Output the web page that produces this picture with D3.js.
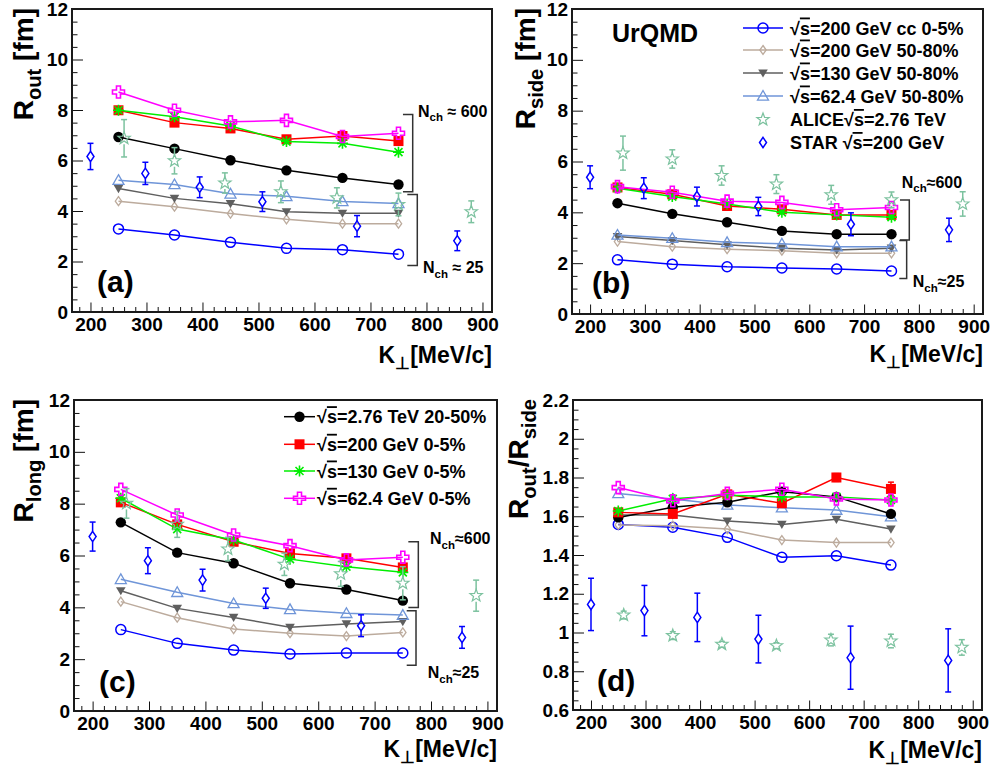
<!DOCTYPE html>
<html>
<head>
<meta charset="utf-8">
<script src="https://cdn.jsdelivr.net/npm/d3@7"></script>
<style>
  body { margin: 0; background: #fff; }
  svg text { font-family: "Liberation Sans", Arial, Helvetica, sans-serif; font-weight: bold; }
</style>
</head>
<body>
<svg id="fig" width="995" height="774"></svg>
<script>
// ---------------- data ----------------
const kT = [250, 350, 450, 550, 650, 750];          // UrQMD K_T bins [MeV/c]
const aliceKt = [260, 350, 440, 540, 640, 750, 880];
const starKt = [200, 298, 395, 507, 676, 855];
const xMajorTicks = [200, 300, 400, 500, 600, 700, 800, 900];

// R_out [fm]
const outCc200  = [3.29, 3.05, 2.76, 2.52, 2.47, 2.29];
const outPer200 = [4.39, 4.17, 3.90, 3.67, 3.50, 3.50];
const outPer130 = [4.89, 4.50, 4.29, 3.97, 3.91, 3.91];
const outPer62  = [5.22, 5.05, 4.68, 4.58, 4.38, 4.30];
const outLhc    = [6.93, 6.47, 6.01, 5.61, 5.31, 5.05];
const outCen200 = [7.99, 7.50, 7.27, 6.84, 6.97, 6.77];
const outCen130 = [7.99, 7.73, 7.37, 6.75, 6.68, 6.33];
const outCen62  = [8.71, 7.99, 7.53, 7.59, 6.95, 7.08];
const outAlice    = [6.88, 5.99, 5.11, 4.76, 4.52, 4.26, 3.97];
const outAliceErr = [0.74, 0.52, 0.40, 0.43, 0.40, 0.45, 0.43];
const outStar     = [6.16, 5.49, 4.94, 4.37, 3.40, 2.82];
const outStarErr  = [0.52, 0.44, 0.41, 0.39, 0.42, 0.39];

// R_side [fm]
const sideCc200  = [2.13, 1.96, 1.86, 1.81, 1.77, 1.69];
const sidePer200 = [2.85, 2.65, 2.55, 2.49, 2.39, 2.39];
const sidePer130 = [3.05, 2.89, 2.72, 2.59, 2.52, 2.59];
const sidePer62  = [3.11, 2.98, 2.82, 2.76, 2.65, 2.65];
const sideLhc    = [4.36, 3.94, 3.61, 3.27, 3.14, 3.14];
const sideCen200 = [4.98, 4.71, 4.25, 4.12, 3.90, 3.90];
const sideCen130 = [4.95, 4.62, 4.33, 4.00, 3.90, 3.81];
const sideCen62  = [5.01, 4.79, 4.44, 4.39, 4.10, 4.19];
const sideAlice    = [6.33, 6.10, 5.45, 5.11, 4.69, 4.49, 4.33];
const sideAliceErr = [0.67, 0.36, 0.38, 0.37, 0.37, 0.31, 0.48];
const sideStar     = [5.38, 4.95, 4.62, 4.23, 3.53, 3.31];
const sideStarErr  = [0.45, 0.41, 0.37, 0.36, 0.45, 0.46];

// R_long [fm]
const longCc200  = [3.14, 2.61, 2.35, 2.20, 2.24, 2.24];
const longPer200 = [4.22, 3.60, 3.16, 3.00, 2.89, 3.03];
const longPer130 = [4.64, 3.96, 3.61, 3.23, 3.36, 3.45];
const longPer62  = [5.08, 4.58, 4.15, 3.92, 3.77, 3.70];
const longLhc    = [7.28, 6.11, 5.70, 4.93, 4.69, 4.26];
const longCen200 = [8.05, 7.20, 6.53, 6.08, 5.89, 5.54];
const longCen130 = [8.21, 7.02, 6.60, 5.86, 5.57, 5.35];
const longCen62  = [8.55, 7.56, 6.79, 6.38, 5.83, 5.93];
const longAlice    = [8.01, 7.20, 6.25, 5.66, 5.29, 4.93, 4.45];
const longAliceErr = [0.57, 0.50, 0.45, 0.43, 0.48, 0.64, 0.60];
const longStar     = [6.73, 5.80, 5.05, 4.35, 3.29, 2.84];
const longStarErr  = [0.56, 0.50, 0.42, 0.39, 0.42, 0.42];

// R_out / R_side
const ratioCc200  = [1.558, 1.543, 1.491, 1.388, 1.396, 1.348];
const ratioPer200 = [1.555, 1.551, 1.534, 1.477, 1.464, 1.464];
const ratioPer130 = [1.606, 1.606, 1.575, 1.558, 1.584, 1.534];
const ratioPer62  = [1.718, 1.689, 1.658, 1.644, 1.632, 1.598];
const ratioLhc    = [1.594, 1.646, 1.672, 1.727, 1.700, 1.612];
const ratioCen200 = [1.620, 1.612, 1.713, 1.667, 1.800, 1.741];
const ratioCen200Err = [0.012, 0.012, 0.012, 0.015, 0.020, 0.035];
const ratioCen130 = [1.627, 1.690, 1.708, 1.700, 1.700, 1.684];
const ratioCen62  = [1.748, 1.680, 1.718, 1.739, 1.689, 1.684];
const ratioAlice    = [1.090, 0.984, 0.939, 0.932, 0.961, 0.956, 0.923];
const ratioAliceErr = [0.020, 0.020, 0.015, 0.015, 0.030, 0.035, 0.040];
const ratioStar     = [1.145, 1.113, 1.078, 0.966, 0.870, 0.856];
const ratioStarErr  = [0.135, 0.130, 0.125, 0.123, 0.163, 0.163];

// ---------------- styles ----------------
const seriesOrder = ['cc200', 'per200', 'per130', 'per62', 'lhc', 'cen200', 'cen130', 'cen62'];
const seriesStyle = {
  cc200:  { color: '#0000ff', marker: 'openCircle',  label: '=200 GeV cc 0-5%' },
  per200: { color: '#bcab9d', marker: 'openDiamond', label: '=200 GeV 50-80%' },
  per130: { color: '#5f5f5f', marker: 'fullTriDown', label: '=130 GeV 50-80%' },
  per62:  { color: '#6f95d8', marker: 'openTriUp',   label: '=62.4 GeV 50-80%' },
  lhc:    { color: '#000000', marker: 'fullCircle',  label: '=2.76 TeV 20-50%' },
  cen200: { color: '#ff0000', marker: 'fullSquare',  label: '=200 GeV 0-5%' },
  cen130: { color: '#00ee00', marker: 'asterisk',    label: '=130 GeV 0-5%' },
  cen62:  { color: '#ff00ff', marker: 'openCross',   label: '=62.4 GeV 0-5%' }
};
const aliceColor = '#7cc29f';
const starColor = '#0000ff';

const FONT = '"Liberation Sans", Arial, Helvetica, sans-serif';
const kDomain = [167, 917];

const panels = [
  { tag: '(a)', box: { left: 72, top: 9, width: 420, height: 303 }, yDomain: [0, 12], yMajor: 2, yMinor: 0.5,
    series: { cc200: outCc200, per200: outPer200, per130: outPer130, per62: outPer62, lhc: outLhc, cen200: outCen200, cen130: outCen130, cen62: outCen62 },
    alice: [outAlice, outAliceErr], star: [outStar, outStarErr],
    ytitle: [['R'], ['out', 'sub'], [' [fm]']], ytitleOff: 39, xtitleOff: 51,
    tagPos: [97, 292],
    brackets: [{ x0: 758, x1: 775.4, y0: 7.82, y1: 4.76 }, { x0: 765.8, x1: 783.6, y0: 4.65, y1: 1.84 }],
    nch: [{ x: 784.8, y: 7.73, t: ' \u2248 600' }, { x: 793.7, y: 1.53, t: ' \u2248 25' }] },
  { tag: '(b)', box: { left: 572, top: 9, width: 411, height: 305 }, yDomain: [0, 12], yMajor: 2, yMinor: 0.5,
    series: { cc200: sideCc200, per200: sidePer200, per130: sidePer130, per62: sidePer62, lhc: sideLhc, cen200: sideCen200, cen130: sideCen130, cen62: sideCen62 },
    alice: [sideAlice, sideAliceErr], star: [sideStar, sideStarErr],
    ytitle: [['R'], ['side', 'sub'], [' [fm]']], ytitleOff: 37, xtitleOff: 48,
    tagPos: [592, 293],
    brackets: [{ x0: 765.5, x1: 782.5, y0: 4.49, y1: 2.91 }, { x0: 764.3, x1: 777.7, y0: 2.89, y1: 1.40 }],
    nch: [{ x: 768.6, y: 4.96, t: '\u2248600' }, { x: 788.7, y: 1.06, t: '\u224825' }],
    legend: { keys: ['cc200', 'per200', 'per130', 'per62', 'alice', 'star'], x0: 743, x1: 783, tx: 790, rows: [28, 50, 73, 96, 119.5, 142.5] } },
  { tag: '(c)', box: { left: 74, top: 400, width: 423, height: 311 }, yDomain: [0, 12], yMajor: 2, yMinor: 0.5,
    series: { cc200: longCc200, per200: longPer200, per130: longPer130, per62: longPer62, lhc: longLhc, cen200: longCen200, cen130: longCen130, cen62: longCen62 },
    alice: [longAlice, longAliceErr], star: [longStar, longStarErr],
    ytitle: [['R'], ['long', 'sub'], [' [fm]']], ytitleOff: 41, xtitleOff: 46,
    tagPos: [99, 692],
    brackets: [{ x0: 759.8, x1: 777.5, y0: 6.53, y1: 3.99 }, { x0: 756.9, x1: 773.4, y0: 3.87, y1: 1.77 }],
    nch: [{ x: 798.2, y: 6.43, t: '\u2248600' }, { x: 794.1, y: 1.26, t: '\u224825' }],
    legend: { keys: ['lhc', 'cen200', 'cen130', 'cen62'], x0: 284, x1: 315, tx: 317, rows: [416.7, 444.3, 471, 498.3] } },
  { tag: '(d)', box: { left: 573, top: 400, width: 409, height: 310 }, yDomain: [0.6, 2.2], yMajor: 0.2, yMinor: 0.05,
    series: { cc200: ratioCc200, per200: ratioPer200, per130: ratioPer130, per62: ratioPer62, lhc: ratioLhc, cen200: ratioCen200, cen130: ratioCen130, cen62: ratioCen62 },
    seriesErr: { cen200: ratioCen200Err },
    alice: [ratioAlice, ratioAliceErr], star: [ratioStar, ratioStarErr],
    ytitle: [['R'], ['out', 'sub'], ['/R'], ['side', 'sub']], ytitleOff: 45, xtitleOff: 48,
    tagPos: [597, 691] }
];

const svg = d3.select('#fig');

// ---------------- marker glyphs ----------------
function starPath(ro, ri) {
  const pts = [];
  for (let i = 0; i < 10; i++) {
    const r = i % 2 === 0 ? ro : ri;
    const a = -Math.PI / 2 + i * Math.PI / 5;
    pts.push([r * Math.cos(a), r * Math.sin(a)]);
  }
  return 'M' + pts.map(p => p[0].toFixed(2) + ',' + p[1].toFixed(2)).join('L') + 'Z';
}
const markerHalf = { openCircle: 5, fullCircle: 5, fullSquare: 5, openDiamond: 4.5, fullTriDown: 4.5,
  openTriUp: 5, asterisk: 5, openCross: 6, openStar: 6.5, starDiamond: 5 };

function drawMarker(sel, type, color) {
  switch (type) {
    case 'openCircle':
      sel.append('circle').attr('r', 5).attr('fill', 'none').attr('stroke', color).attr('stroke-width', 1.5); break;
    case 'fullCircle':
      sel.append('circle').attr('r', 5.2).attr('fill', color); break;
    case 'fullSquare':
      sel.append('rect').attr('x', -5).attr('y', -5).attr('width', 10).attr('height', 10).attr('fill', color); break;
    case 'openDiamond':
      sel.append('path').attr('d', 'M0,-4.5L3.2,0L0,4.5L-3.2,0Z').attr('fill', 'none').attr('stroke', color).attr('stroke-width', 1.3); break;
    case 'fullTriDown':
      sel.append('path').attr('d', 'M-4.8,-3.6L4.8,-3.6L0,4.6Z').attr('fill', color); break;
    case 'openTriUp':
      sel.append('path').attr('d', 'M0,-5.5L5.5,4.2L-5.5,4.2Z').attr('fill', 'none').attr('stroke', color).attr('stroke-width', 1.3); break;
    case 'asterisk':
      sel.append('path').attr('d', 'M-5.5,0H5.5M0,-5.5V5.5M-4,-4L4,4M-4,4L4,-4').attr('fill', 'none').attr('stroke', color).attr('stroke-width', 1.6); break;
    case 'openCross':
      sel.append('path').attr('d', 'M-2,-6H2V-2H6V2H2V6H-2V2H-6V-2H-2Z').attr('fill', 'none').attr('stroke', color).attr('stroke-width', 1.6); break;
    case 'openStar':
      sel.append('path').attr('d', starPath(6.5, 2.7)).attr('fill', 'none').attr('stroke', color).attr('stroke-width', 1.2); break;
    case 'starDiamond':
      sel.append('path').attr('d', 'M0,-5.2L3.5,0L0,5.2L-3.5,0Z').attr('fill', 'none').attr('stroke', color).attr('stroke-width', 1.5); break;
  }
}

// rich text: parts = [[text, 'sub'?], ...]
function richText(sel, parts, size) {
  let shifted = 0;
  parts.forEach(([t, kind]) => {
    const ts = sel.append('tspan').text(t);
    if (kind === 'sub') {
      ts.attr('font-size', size * 0.72).attr('dy', size * 0.28 - shifted);
      shifted = size * 0.28;
    } else {
      ts.attr('font-size', size);
      if (shifted) { ts.attr('dy', -shifted); shifted = 0; }
    }
  });
  return sel;
}

function sqrtLabel(sel, rest, size) {
  sel.append('tspan').attr('font-size', size).text('\u221A');
  sel.append('tspan').attr('font-size', size).style('text-decoration', 'overline').text('s');
  sel.append('tspan').attr('font-size', size).text(rest);
}

function errorBars(g, xs, ys, es, x, y, color, gap) {
  xs.forEach((kx, i) => {
    const px = x(kx), pc = y(ys[i]), pt = y(ys[i] + es[i]), pb = y(ys[i] - es[i]);
    const bar = g.append('g').attr('stroke', color).attr('stroke-width', 1.5).attr('fill', 'none');
    if (pc - gap > pt) bar.append('line').attr('x1', px).attr('x2', px).attr('y1', pt).attr('y2', pc - gap);
    if (pc + gap < pb) bar.append('line').attr('x1', px).attr('x2', px).attr('y1', pc + gap).attr('y2', pb);
    bar.append('line').attr('x1', px - 3).attr('x2', px + 3).attr('y1', pt).attr('y2', pt);
    bar.append('line').attr('x1', px - 3).attr('x2', px + 3).attr('y1', pb).attr('y2', pb);
  });
}

const fmt = d => String(+d.toFixed(2));

// ---------------- panels ----------------
panels.forEach(p => {
  const b = p.box;
  const g = svg.append('g');
  const x = d3.scaleLinear().domain(kDomain).range([b.left, b.left + b.width]);
  const y = d3.scaleLinear().domain(p.yDomain).range([b.top + b.height, b.top]);

  // axes (ticks point into the frame)
  const xMinor = d3.range(180, kDomain[1], 20).filter(v => v % 100 !== 0);
  const nMinor = Math.round((p.yDomain[1] - p.yDomain[0]) / p.yMinor);
  const yMinorVals = d3.range(0, nMinor + 1).map(i => +(p.yDomain[0] + i * p.yMinor).toFixed(3));
  const nMajor = Math.round((p.yDomain[1] - p.yDomain[0]) / p.yMajor);
  const yMajorVals = d3.range(0, nMajor + 1).map(i => +(p.yDomain[0] + i * p.yMajor).toFixed(3));
  const yMinorOnly = yMinorVals.filter(v => !yMajorVals.some(m => Math.abs(m - v) < 1e-6));

  const styleAxis = s => {
    s.select('.domain').remove();
    s.selectAll('line').attr('stroke', '#111');
    s.selectAll('text').attr('font-size', 19).attr('font-weight', 'bold').attr('font-family', FONT).attr('fill', '#000');
  };
  g.append('g').attr('transform', `translate(0,${b.top + b.height})`)
    .call(d3.axisBottom(x).tickValues(xMinor).tickSize(-5).tickFormat('')).call(styleAxis);
  g.append('g').attr('transform', `translate(0,${b.top + b.height})`)
    .call(d3.axisBottom(x).tickValues(xMajorTicks).tickSize(-9.5).tickPadding(6).tickFormat(d3.format('d'))).call(styleAxis);
  g.append('g').attr('transform', `translate(${b.left},0)`)
    .call(d3.axisLeft(y).tickValues(yMinorOnly).tickSize(-5.5).tickFormat('')).call(styleAxis);
  g.append('g').attr('transform', `translate(${b.left},0)`)
    .call(d3.axisLeft(y).tickValues(yMajorVals).tickSize(-11).tickPadding(4).tickFormat(fmt)).call(styleAxis);

  // frame
  g.append('rect').attr('x', b.left).attr('y', b.top).attr('width', b.width).attr('height', b.height)
    .attr('fill', 'none').attr('stroke', '#1a1a1a').attr('stroke-width', 2);

  // axis titles
  const xt = g.append('text').attr('x', b.left + b.width).attr('y', b.top + b.height + p.xtitleOff)
    .attr('text-anchor', 'end').attr('font-size', 23);
  richText(xt, [['K'], ['\u22A5', 'sub'], ['[MeV/c]']], 23);
  const yt = g.append('text').attr('transform', `translate(${b.left - p.ytitleOff},${Math.max(b.top - 1, 6)}) rotate(-90)`)
    .attr('text-anchor', 'end').attr('font-size', 28);
  richText(yt, p.ytitle, 28);

  // panel tag
  g.append('text').attr('x', p.tagPos[0]).attr('y', p.tagPos[1]).attr('font-size', 30).text(p.tag);

  // model curves
  const line = d3.line().x((d, i) => x(kT[i])).y(d => y(d));
  seriesOrder.forEach(key => {
    const st = seriesStyle[key];
    const vals = p.series[key];
    g.append('path').datum(vals).attr('d', line).attr('fill', 'none').attr('stroke', st.color).attr('stroke-width', 1.5);
    if (p.seriesErr && p.seriesErr[key]) errorBars(g, kT, vals, p.seriesErr[key], x, y, st.color, markerHalf[st.marker]);
    vals.forEach((v, i) => {
      drawMarker(g.append('g').attr('transform', `translate(${x(kT[i])},${y(v)})`), st.marker, st.color);
    });
  });

  // measured data
  errorBars(g, aliceKt, p.alice[0], p.alice[1], x, y, aliceColor, 6);
  p.alice[0].forEach((v, i) => drawMarker(g.append('g').attr('transform', `translate(${x(aliceKt[i])},${y(v)})`), 'openStar', aliceColor));
  errorBars(g, starKt, p.star[0], p.star[1], x, y, starColor, 5.2);
  p.star[0].forEach((v, i) => drawMarker(g.append('g').attr('transform', `translate(${x(starKt[i])},${y(v)})`), 'starDiamond', starColor));

  // multiplicity brackets
  (p.brackets || []).forEach(br => {
    g.append('path')
      .attr('d', `M${x(br.x0)},${y(br.y0)}H${x(br.x1)}V${y(br.y1)}H${x(br.x0)}`)
      .attr('fill', 'none').attr('stroke', '#333').attr('stroke-width', 1.5);
  });
  (p.nch || []).forEach(n => {
    const t = g.append('text').attr('x', x(n.x)).attr('y', y(n.y)).attr('font-size', 16);
    richText(t, [['N'], ['ch', 'sub'], [n.t]], 16);
  });

  // legend
  if (p.legend) {
    const L = p.legend;
    L.keys.forEach((key, i) => {
      const cy = L.rows[i];
      const lg = g.append('g');
      let color, marker, withLine = true;
      if (key === 'alice') { color = aliceColor; marker = 'openStar'; withLine = false; }
      else if (key === 'star') { color = starColor; marker = 'starDiamond'; withLine = false; }
      else { color = seriesStyle[key].color; marker = seriesStyle[key].marker; }
      if (withLine) lg.append('line').attr('x1', L.x0).attr('x2', L.x1).attr('y1', cy).attr('y2', cy)
        .attr('stroke', color).attr('stroke-width', 1.5);
      drawMarker(lg.append('g').attr('transform', `translate(${(L.x0 + L.x1) / 2},${cy})`), marker, color);
      const t = lg.append('text').attr('x', L.tx).attr('y', cy + 6.5).attr('font-size', 18);
      if (key === 'alice') {
        t.append('tspan').text('ALICE');
        sqrtLabel(t, '=2.76 TeV', 18);
      } else if (key === 'star') {
        t.append('tspan').text('STAR ');
        sqrtLabel(t, '=200 GeV', 18);
      } else {
        sqrtLabel(t, seriesStyle[key].label, 18);
      }
    });
  }
});

// model name
svg.append('text').attr('x', 612).attr('y', 42).attr('font-size', 25).text('UrQMD');
</script>
</body>
</html>
